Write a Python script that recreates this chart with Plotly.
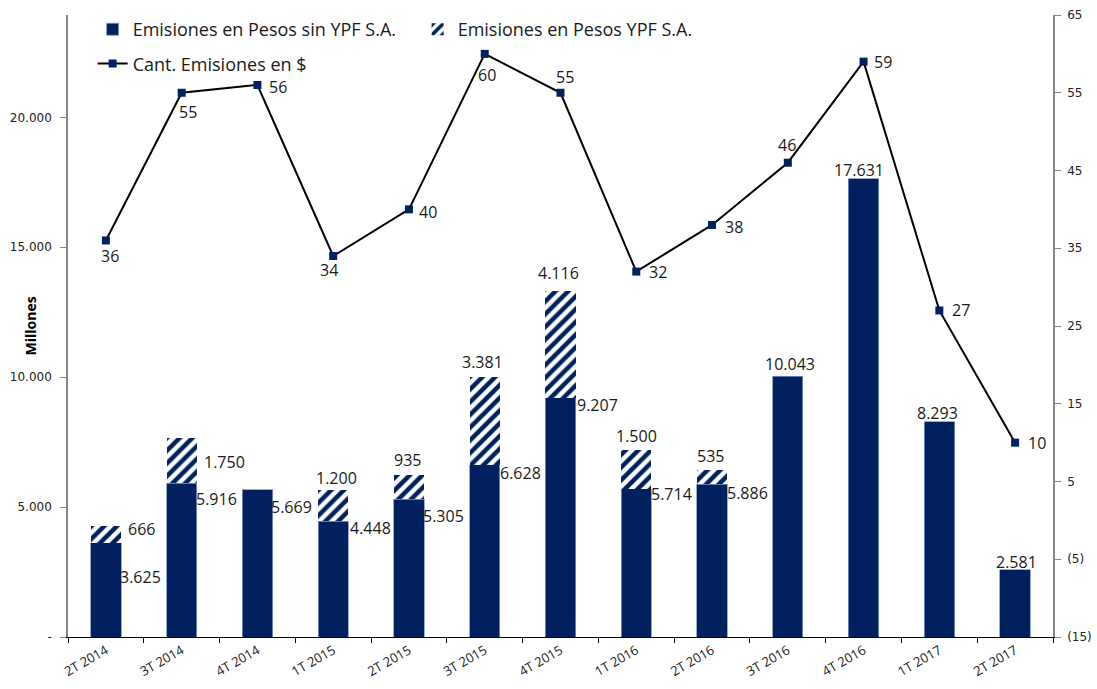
import plotly.graph_objects as go

# datos
trimestres = ["2T 2014", "3T 2014", "4T 2014", "1T 2015", "2T 2015", "3T 2015", "4T 2015",
              "1T 2016", "2T 2016", "3T 2016", "4T 2016", "1T 2017", "2T 2017"]
pesos_sin_ypf = [3625, 5916, 5669, 4448, 5305, 6628, 9207, 5714, 5886, 10043, 17631, 8293, 2581]
pesos_ypf = [666, 1750, 0, 1200, 935, 3381, 4116, 1500, 535, 0, 0, 0, 0]
cant_emisiones = [36, 55, 56, 34, 40, 60, 55, 32, 38, 46, 59, 27, 10]

left_ticks = [0, 5000, 10000, 15000, 20000]
left_ticktext = ["-", "5.000", "10.000", "15.000", "20.000"]
right_ticks = [-15, -5, 5, 15, 25, 35, 45, 55, 65]
right_ticktext = ["(15)", "(5)", "5", "15", "25", "35", "45", "55", "65"]

# posicion de etiquetas (px respecto al punto / tope de cada segmento)
sin_label_shift = [(35, -34), (35, -16), (34, -17), (37, -7), (35, -17), (36, -8), (37, -7),
                   (35, -5), (35, -9), (2, 12), (-5, 9), (-2, 9), (1, 8)]
ypf_label_shift = [(36, -3), (43, -24), None, (3, 12), (-1, 15), (-2, 15), (-2, 18),
                   (0, 14), (-2, 14), None, None, None, None]
line_label_shift = [(4, -16), (6, -19), (21, -2), (-4, -14), (19, -3), (2, -21), (4, 16),
                    (22, 0), (22, -2), (-1, 18), (19, 0), (22, 0), (22, 0)]

NAVY = "#002060"
LABEL_FONT = dict(family="Open Sans", size=16, color="#1a1a1a")


def fmt(v):
    return f"{v:,}".replace(",", ".")


fig = go.Figure()

fig.add_trace(go.Bar(
    x=trimestres, y=pesos_sin_ypf, name="Emisiones en Pesos sin YPF S.A.",
    marker=dict(color=NAVY, line=dict(color="#8096c0", width=0.8)),
    legend="legend", hoverinfo="x+y",
))
fig.add_trace(go.Bar(
    x=trimestres, y=pesos_ypf, name="Emisiones en Pesos YPF S.A.",
    marker=dict(color="white", line=dict(width=0),
                pattern=dict(shape="/", fgcolor=NAVY, bgcolor="white", fgopacity=1,
                             size=9, solidity=0.5)),
    legend="legend", hoverinfo="x+y",
))
fig.add_trace(go.Scatter(
    x=trimestres, y=cant_emisiones, name="Cant. Emisiones en $", yaxis="y2",
    mode="lines+markers",
    line=dict(color="black", width=2),
    marker=dict(symbol="square", size=8, color=NAVY),
    legend="legend2",
))

annotations = []
for i, cat in enumerate(trimestres):
    dx, dy = sin_label_shift[i]
    annotations.append(dict(x=cat, y=pesos_sin_ypf[i], xref="x", yref="y", text=fmt(pesos_sin_ypf[i]),
                            showarrow=False, xshift=dx, yshift=dy, font=LABEL_FONT))
    total = pesos_sin_ypf[i] + pesos_ypf[i]
    if pesos_ypf[i] > 0:
        dx, dy = ypf_label_shift[i]
        annotations.append(dict(x=cat, y=total, xref="x", yref="y", text=fmt(pesos_ypf[i]),
                                showarrow=False, xshift=dx, yshift=dy, font=LABEL_FONT))
    else:
        # etiqueta "-" de valor cero
        annotations.append(dict(x=cat, y=total, xref="x", yref="y", text="-",
                                showarrow=False, yshift=-5, font=dict(family="Open Sans", size=9, color="#1a1a1a")))
    dx, dy = line_label_shift[i]
    annotations.append(dict(x=cat, y=cant_emisiones[i], xref="x", yref="y2", text=str(cant_emisiones[i]),
                            showarrow=False, xshift=dx, yshift=dy, font=LABEL_FONT))

annotations.append(dict(x=0, y=0.5, xref="paper", yref="paper", text="<b>Millones</b>", textangle=-90,
                        showarrow=False, xshift=-50, font=dict(family="Open Sans", size=14, color="black")))

fig.update_layout(
    width=1097, height=689,
    margin=dict(l=68, r=44, t=14, b=52),
    plot_bgcolor="white", paper_bgcolor="white",
    barmode="stack", bargap=0.6,
    annotations=annotations,
    showlegend=True,
    legend=dict(orientation="h", x=0.025, y=0.975, xanchor="left", yanchor="middle",
                entrywidth=280, font=dict(family="Open Sans", size=18, color="#1a1a1a"),
                bgcolor="rgba(0,0,0,0)", traceorder="normal"),
    legend2=dict(orientation="h", x=0.025, y=0.92, xanchor="left", yanchor="middle",
                 font=dict(family="Open Sans", size=18, color="#1a1a1a"), bgcolor="rgba(0,0,0,0)"),
    xaxis=dict(type="category", range=[-0.5, len(trimestres) - 0.5],
               showline=True, linecolor="black", linewidth=1, automargin=False,
               ticks="outside", tickson="boundaries", ticklen=5, tickcolor="black",
               tickangle=-30, tickfont=dict(family="Open Sans", size=13, color="#1a1a1a"),
               showgrid=False),
    yaxis=dict(range=[0, 23940], tickvals=left_ticks, ticktext=left_ticktext, automargin=False,
               showline=True, linecolor="#868686", linewidth=1.5, ticks="outside", ticklen=6,
               tickcolor="#868686", ticklabelstandoff=6, showgrid=False, zeroline=False,
               tickfont=dict(family="DejaVu Sans", size=12, color="#222")),
    yaxis2=dict(range=[-15, 65], tickvals=right_ticks, ticktext=right_ticktext, automargin=False,
                overlaying="y", side="right", showline=True, linecolor="#868686", linewidth=1.5,
                ticks="outside", ticklen=6, tickcolor="#868686", ticklabelstandoff=4,
                showgrid=False, zeroline=False,
                tickfont=dict(family="DejaVu Sans", size=12, color="#222")),
)

fig.write_html("out.html", config={"displayModeBar": False},
               post_script="document.body.style.margin = '0';")
